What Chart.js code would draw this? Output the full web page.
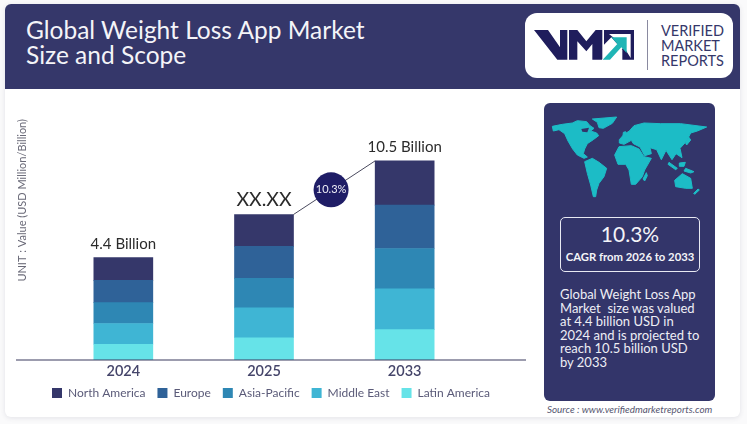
<!DOCTYPE html>
<html>
<head>
<meta charset="utf-8">
<title>Global Weight Loss App Market Size and Scope</title>
<script src="https://cdn.jsdelivr.net/npm/chart.js@4"></script>
<style>
html, body { margin: 0; padding: 0; width: 747px; height: 424px; overflow: hidden; background: #fafafb; font-family: Lato, sans-serif; }
.abs { position: absolute; white-space: nowrap; }
#card { left: 5px; top: 4px; width: 735px; height: 413px; background: #fff; border-radius: 6px; box-shadow: 0 1px 5px rgba(60,60,90,.12); }
#header { left: 5px; top: 4px; width: 735px; height: 85px; background: #35376a; border-radius: 6px 6px 0 0; }
#title { left: 26px; top: 17px; color: #f4f4f8; font-size: 24.5px; line-height: 25px; }
#logo { left: 525px; top: 13px; width: 208px; height: 65px; background: #fff; border-radius: 12px; }
#logoText { left: 661px; top: 23px; color: #35376a; font-size: 14.5px; line-height: 15px; }
#panel { left: 544px; top: 103px; width: 171px; height: 298px; background: #33356a; border-radius: 6px; }
#cagrBox { left: 560px; top: 217px; width: 138px; height: 53px; border: 1.5px solid #e8e9f2; border-radius: 5px; }
#cagrValue { left: 560px; width: 140px; top: 221px; text-align: center; color: #f4f4f8; font-size: 21px; }
#cagrText { left: 560px; width: 140px; top: 250px; text-align: center; color: #f4f4f8; font-size: 11.3px; font-weight: 700; }
#desc { left: 560px; top: 288px; color: #eeeef5; font-size: 13px; line-height: 13.6px; }
#source { left: 547px; top: 403px; color: #55556f; font-size: 9.9px; font-style: italic; }
#chartBox { left: 16px; top: 90px; width: 510px; height: 330px; }
</style>
</head>
<body>
<div class="abs" id="card"></div>
<div class="abs" id="header"></div>
<div class="abs" id="title">Global Weight Loss App Market<br>Size and Scope</div>
<div class="abs" id="logo"></div>
<svg class="abs" style="left:524px;top:8px" width="212" height="74" viewBox="0 0 636 222">
  <path fill="#1f1d5c" d="M30 66 L72 66 L108 118 L108 66 L130 66 L130 155 L100 155 Z"/>
  <path fill="#1f1d5c" d="M135 66 L160 66 L187 100 L215 66 L235 66 L235 155 L205 155 L205 108 L187 130 L160 100 L160 155 L135 155 Z"/>
  <path fill="#1f1d5c" d="M240 66 L330 66 L330 155 L295 155 L295 125 L262 88 L240 110 Z"/>
  <path fill="#fff" d="M225 165 L285 102 L255 78 L320 78 L320 150 L300 118 L245 165 Z"/>
  <path fill="#1fb5b5" d="M236 155 L280 108 L262 88 L308 88 L308 135 L292 118 L258 155 Z"/>
  <rect x="369" y="36" width="3" height="150" fill="#8a8aa0"/>
</svg>
<div class="abs" id="logoText">VERIFIED<br>MARKET<br>REPORTS</div>
<div class="abs" id="panel"></div>
<svg class="abs" style="left:544px;top:105px" width="172" height="98" viewBox="0 0 516 294">
  <g fill="#1cbcc6" stroke="#1cbcc6" stroke-width="3" stroke-linejoin="round">
    <path d="M25 64 L55 58 L85 54 L100 47 L128 50 L138 62 L150 70 L140 78 L158 84 L164 92 L148 104 L130 116 L122 132 L118 146 L130 156 L120 160 L100 150 L86 132 L72 108 L62 86 L45 74 L28 78 Z"/>
    <path d="M145 42 L218 36 L205 55 L178 70 L165 68 L160 52 Z"/>
    <path d="M122 170 L145 160 L165 172 L188 190 L180 215 L165 235 L158 255 L155 275 L148 275 L140 240 L130 205 Z"/>
    <path d="M212 150 L225 125 L262 122 L285 132 L300 155 L322 160 L302 195 L295 215 L275 238 L262 238 L255 195 L245 178 L222 178 Z"/>
    <path d="M307 203 L310 212 L302 228 L297 222 Z"/>
    <path d="M226 104 L240 88 L256 78 L270 62 L300 54 L350 56 L410 56 L488 66 L460 78 L440 84 L428 108 L408 130 L414 158 L396 146 L384 164 L366 136 L352 164 L338 134 L318 128 L322 146 L302 152 L288 126 L268 116 L262 106 L240 118 L226 114 Z"/>
    <path d="M392 226 L415 206 L440 220 L445 250 L425 250 L395 245 Z"/>
    <path d="M375 172 L400 190 L395 194 L372 178 Z"/>
    <path d="M406 174 L424 172 L420 184 L406 184 Z"/>
    <path d="M425 190 L450 200 L440 204 L420 198 Z"/>
    <path d="M434 96 L440 105 L428 120 L425 115 Z"/>
    <path d="M238 82 L245 80 L245 92 L237 92 Z"/>
    <path d="M462 252 L466 255 L452 268 L449 265 Z"/>
  </g>
  <path fill="#33356a" d="M112 72 L135 68 L130 82 L115 80 Z"/>
</svg>
<div class="abs" id="cagrBox"></div>
<div class="abs" id="cagrValue">10.3%</div>
<div class="abs" id="cagrText">CAGR from 2026 to 2033</div>
<div class="abs" id="desc">Global Weight Loss App<br>Market&nbsp; size was valued<br>at 4.4 billion USD in<br>2024 and is projected to<br>reach 10.5 billion USD<br>by 2033</div>
<div class="abs" id="source">Source : www.verifiedmarketreports.com</div>
<div class="abs" id="chartBox"><canvas id="myChart" width="510" height="330"></canvas></div>

<script>
const years = ['2024', '2025', '2033'];
const totalLabels = ['4.4 Billion', 'XX.XX', '10.5 Billion'];
const cagrLabel = '10.3%';
const unitLabel = 'UNIT : Value (USD Million/Billion)';

// segment heights as drawn, the picture's bars are not to scale with their labels
const latinAmerica = [0.83, 1.17, 1.60];
const middleEast = [1.09, 1.57, 2.14];
const asiaPacific = [1.10, 1.55, 2.12];
const europe = [1.17, 1.68, 2.28];
const northAmerica = [1.19, 1.68, 2.33];

const textColor = '#45456a';
const darkText = '#2b2b2b';

// value labels, the CAGR link and the long baseline
const annotations = {
    id: 'annotations',
    afterLayout(chart) {
        // legend sits closer to the axis than its own padding allows
        chart.legend.top -= 11;
        chart.legend.bottom -= 11;
    },
    afterDatasetsDraw(chart) {
        const ctx = chart.ctx;
        const bars = chart.getDatasetMeta(4).data;
        const area = chart.chartArea;

        ctx.save();
        ctx.strokeStyle = '#3b3b5e';
        ctx.lineWidth = 1.2;
        ctx.beginPath();
        ctx.moveTo(0, area.bottom);
        ctx.lineTo(chart.width, area.bottom);
        ctx.stroke();

        ctx.textAlign = 'center';
        ctx.textBaseline = 'bottom';
        ctx.fillStyle = darkText;
        bars.forEach(function (bar, i) {
            ctx.font = i === 1 ? '19.5px Lato' : '15px Lato';
            ctx.fillText(totalLabels[i], bar.x, bar.y - (i === 1 ? 5 : 6));
        });

        const x1 = bars[1].x + bars[1].width / 2;
        const x2 = bars[2].x - bars[2].width / 2;
        const cx = x1 + (x2 - x1) * 0.46;
        const cy = bars[1].y + (bars[2].y - bars[1].y) * 0.46;
        ctx.strokeStyle = '#4a4a5e';
        ctx.lineWidth = 1;
        ctx.beginPath();
        ctx.moveTo(x1, bars[1].y);
        ctx.lineTo(x2, bars[2].y);
        ctx.stroke();
        ctx.fillStyle = '#1f1d66';
        ctx.beginPath();
        ctx.arc(cx, cy, 17.5, 0, Math.PI * 2);
        ctx.fill();
        ctx.fillStyle = '#f0f0f8';
        ctx.font = '11px Lato';
        ctx.textBaseline = 'middle';
        ctx.fillText(cagrLabel, cx, cy);
        ctx.restore();
    }
};

function makeSet(label, data, color) {
    return { label: label, data: data, backgroundColor: color, barThickness: 59, borderWidth: 0 };
}

new Chart(document.getElementById('myChart').getContext('2d'), {
    type: 'bar',
    data: {
        labels: years,
        datasets: [
            makeSet('Latin America', latinAmerica, '#66e3e8'),
            makeSet('Middle East', middleEast, '#3fb5d4'),
            makeSet('Asia-Pacific', asiaPacific, '#2e87b4'),
            makeSet('Europe', europe, '#2f6298'),
            makeSet('North America', northAmerica, '#35376a')
        ]
    },
    options: {
        responsive: false,
        animation: false,
        layout: { padding: { top: 29 } },
        plugins: {
            tooltip: { enabled: false },
            legend: {
                position: 'bottom',
                reverse: true,
                labels: {
                    boxWidth: 10,
                    boxHeight: 10,
                    padding: 12,
                    color: '#5a5a78',
                    font: { family: 'Lato', size: 12 }
                }
            }
        },
        scales: {
            x: {
                stacked: true,
                border: { display: false },
                grid: { display: false, drawTicks: false },
                ticks: { color: textColor, font: { family: 'Lato', size: 14.5, weight: '600' }, padding: 3 },
                afterFit(scale) { scale.height = 26; }
            },
            y: {
                stacked: true,
                min: 0,
                max: 12.67,
                border: { display: false },
                grid: { display: false },
                ticks: { display: false },
                title: {
                    display: true,
                    text: unitLabel,
                    align: 'end',
                    color: '#6a6a78',
                    font: { family: 'Lato', size: 11 },
                    padding: { top: 0, bottom: 0 }
                },
                afterFit(scale) { scale.width = 37; }
            },
            // empty scale keeps the bars off the right end of the baseline
            spacer: {
                position: 'right',
                border: { display: false },
                grid: { display: false },
                ticks: { display: false },
                afterFit(scale) { scale.width = 51; }
            }
        }
    },
    plugins: [annotations]
});
</script>
</body>
</html>
